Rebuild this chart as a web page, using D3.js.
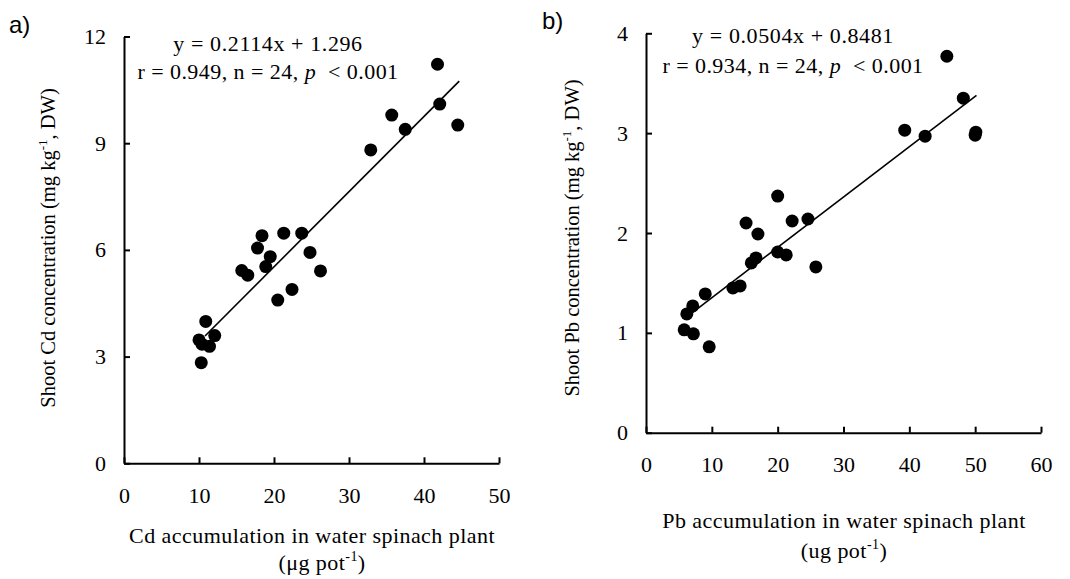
<!DOCTYPE html>
<html>
<head>
<meta charset="utf-8">
<script src="https://cdn.jsdelivr.net/npm/d3@7"></script>
<style>
    body { margin: 0; background: #fff; }
    svg text { font-family: "Liberation Serif", "Times New Roman", serif; fill: #000; }
    .panel-label { font-family: "Liberation Sans", Arial, sans-serif; }
</style>
</head>
<body>
<div id="chart"></div>
<script>

// panel a: Cd
const cdAccum = [41.8, 42.1, 44.5, 35.7, 37.5, 32.9, 18.4, 21.3, 23.7, 17.8, 19.5, 24.8,
                 18.9, 15.7, 16.5, 26.2, 22.4, 20.5, 10.9, 10.0, 10.4, 12.1, 11.4, 10.3];
const cdShoot = [11.22, 10.10, 9.51, 9.79, 9.39, 8.81, 6.40, 6.47, 6.47, 6.05, 5.81, 5.93,
                 5.53, 5.42, 5.29, 5.41, 4.89, 4.59, 3.99, 3.47, 3.35, 3.59, 3.29, 2.83];
const cdFit = {slope: 0.2114, intercept: 1.296, from: 10.8, to: 44.7};
const cdXTicks = [0, 10, 20, 30, 40, 50];
const cdYTicks = [0, 3, 6, 9, 12];

// panel b: Pb
const pbAccum = [45.7, 48.2, 50.1, 50.0, 39.3, 42.4, 20.0, 15.2, 17.0, 22.2, 24.6, 20.0,
                 21.3, 16.0, 16.7, 25.8, 9.0, 13.2, 14.3, 6.2, 7.1, 5.8, 7.2, 9.6];
const pbShoot = [3.77, 3.35, 3.01, 2.98, 3.03, 2.97, 2.37, 2.10, 1.99, 2.12, 2.14, 1.81,
                 1.78, 1.70, 1.75, 1.66, 1.39, 1.45, 1.47, 1.19, 1.27, 1.03, 0.99, 0.86];
const pbFit = {slope: 0.0504, intercept: 0.8481, from: 6.9, to: 50.2};
const pbXTicks = [0, 10, 20, 30, 40, 50, 60];
const pbYTicks = [0, 1, 2, 3, 4];

const serif = "Liberation Serif, Times New Roman, serif";

const svg = d3.select("#chart").append("svg")
    .attr("width", 1070)
    .attr("height", 579);

function drawPanel(opt) {
    let g = svg.append("g");

    let x = d3.scaleLinear()
        .domain(d3.extent(opt.xTicks))
        .range([opt.left, opt.right]);

    let y = d3.scaleLinear()
        .domain(d3.extent(opt.yTicks))
        .range([opt.bottom, opt.top]);

    // axes, ticks pointing inward
    let xAxis = g.append("g")
        .attr("transform", `translate(0,${opt.bottom})`)
        .call(d3.axisBottom(x).tickValues(opt.xTicks).tickFormat(d3.format("d"))
            .tickSizeInner(-6).tickSizeOuter(0).tickPadding(24));

    let yAxis = g.append("g")
        .attr("transform", `translate(${opt.left},0)`)
        .call(d3.axisLeft(y).tickValues(opt.yTicks).tickFormat(d3.format("d"))
            .tickSizeInner(-6).tickSizeOuter(0).tickPadding(18));

    [xAxis, yAxis].forEach(a => {
        a.attr("font-family", serif).attr("font-size", 22);
        a.select(".domain").attr("stroke-width", 2);
        a.selectAll(".tick line").attr("stroke-width", 2);
    });

    // regression line
    let fit = opt.fit;
    g.append("line")
        .attr("x1", x(fit.from))
        .attr("y1", y(fit.slope * fit.from + fit.intercept))
        .attr("x2", x(fit.to))
        .attr("y2", y(fit.slope * fit.to + fit.intercept))
        .attr("stroke", "#000")
        .attr("stroke-width", 1.6);

    // points
    g.selectAll(".dot")
        .data(opt.xs.map((v, i) => [v, opt.ys[i]]))
        .enter().append("circle")
        .attr("class", "dot")
        .attr("cx", d => x(d[0]))
        .attr("cy", d => y(d[1]))
        .attr("r", 6.5)
        .attr("fill", "#000");

    // equation
    g.append("text")
        .attr("x", opt.eqX).attr("y", opt.eqY)
        .attr("text-anchor", "middle")
        .attr("font-size", 22)
        .attr("letter-spacing", 0.6)
        .text(opt.eq);

    let stat = g.append("text")
        .attr("x", opt.eqX).attr("y", opt.eqY + opt.eqGap)
        .attr("text-anchor", "middle")
        .attr("font-size", 22)
        .attr("letter-spacing", 0.45);
    stat.append("tspan").text(opt.stat);
    stat.append("tspan").attr("font-style", "italic").text("p");
    stat.append("tspan").text("\u00a0 < 0.001");

    // y title
    let yt = g.append("text")
        .attr("transform", `translate(${opt.yTitleX},${opt.yTitleY}) rotate(-90)`)
        .attr("text-anchor", "middle")
        .attr("font-size", 20.5);
    yt.append("tspan").text(opt.yTitle + " (mg kg");
    yt.append("tspan").attr("font-size", 13).attr("dy", -8).text("-1");
    yt.append("tspan").attr("dy", 8).text(", DW)");

    // x title, two lines
    g.append("text")
        .attr("x", opt.xTitleX).attr("y", opt.xTitleY)
        .attr("text-anchor", "middle")
        .attr("font-size", 22)
        .attr("letter-spacing", 0.45)
        .text(opt.xTitle);

    let xt2 = g.append("text")
        .attr("x", opt.xTitle2X).attr("y", opt.xTitleY + opt.xTitleGap)
        .attr("text-anchor", "middle")
        .attr("font-size", 22)
        .attr("letter-spacing", 0.45);
    xt2.append("tspan").text(opt.unit + " pot");
    xt2.append("tspan").attr("font-size", 14).attr("dy", -9).text("-1");
    xt2.append("tspan").attr("dy", 9).text(")");

    // panel letter
    g.append("text")
        .attr("class", "panel-label")
        .attr("x", opt.labelX).attr("y", opt.labelY)
        .attr("font-size", 24)
        .text(opt.label);
}

drawPanel({
    xs: cdAccum, ys: cdShoot, fit: cdFit, xTicks: cdXTicks, yTicks: cdYTicks,
    left: 124, right: 499, top: 36.5, bottom: 463.3,
    eq: "y = 0.2114x + 1.296", stat: "r = 0.949, n = 24, ", eqX: 268, eqY: 51, eqGap: 28,
    yTitle: "Shoot Cd concentration", yTitleX: 55, yTitleY: 248,
    xTitle: "Cd accumulation in water spinach plant", unit: "(\u03bcg",
    xTitleX: 312, xTitle2X: 322, xTitleY: 543, xTitleGap: 27,
    label: "a)", labelX: 9, labelY: 33
});

drawPanel({
    xs: pbAccum, ys: pbShoot, fit: pbFit, xTicks: pbXTicks, yTicks: pbYTicks,
    left: 646, right: 1041, top: 33.3, bottom: 432.7,
    eq: "y = 0.0504x + 0.8481", stat: "r = 0.934, n = 24, ", eqX: 793, eqY: 43, eqGap: 30,
    yTitle: "Shoot Pb concentration", yTitleX: 579, yTitleY: 238,
    xTitle: "Pb accumulation in water spinach plant", unit: "(ug",
    xTitleX: 844, xTitle2X: 844, xTitleY: 528, xTitleGap: 30,
    label: "b)", labelX: 542, labelY: 29
});

</script>
</body>
</html>
